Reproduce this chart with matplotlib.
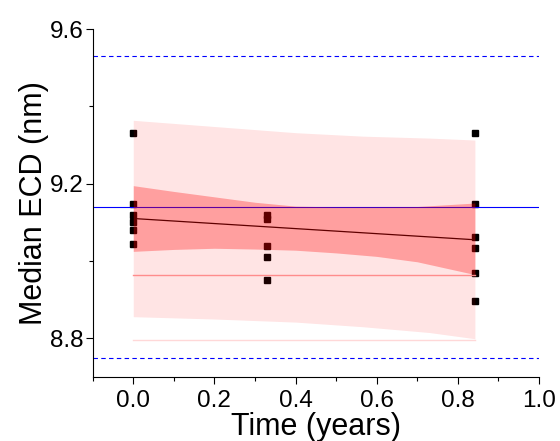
import matplotlib
matplotlib.use("Agg")
import matplotlib.pyplot as plt
from matplotlib.ticker import MultipleLocator

plt.rcParams['font.family'] = ['Liberation Sans', 'DejaVu Sans']

# Data points (time in years, median ECD in nm)
t0 = [0.0, 0.0, 0.0, 0.0, 0.0, 0.0]
v0 = [9.331, 9.148, 9.120, 9.100, 9.081, 9.043]
t1 = [0.329, 0.329, 0.329, 0.329, 0.329]
v1 = [9.120, 9.109, 9.038, 9.011, 8.950]
t2 = [0.842, 0.842, 0.842, 0.842, 0.842, 0.842]
v2 = [9.332, 9.148, 9.061, 9.033, 8.968, 8.896]

# Regression line
fit_x = [0.0, 0.842]
fit_y = [9.110, 9.055]

# Confidence band read at sample times
ci_x = [0.0, 0.1, 0.2, 0.3, 0.4, 0.5, 0.6, 0.7, 0.842]
ci_upper = [9.195, 9.180, 9.166, 9.152, 9.142, 9.140, 9.140, 9.141, 9.150]
ci_lower = [9.025, 9.030, 9.033, 9.031, 9.028, 9.021, 9.012, 8.998, 8.965]

# Prediction band read at sample times
pi_x = [0.0, 0.2, 0.4, 0.566, 0.73, 0.842]
pi_upper = [9.364, 9.348, 9.332, 9.323, 9.318, 9.313]
pi_lower = [8.856, 8.850, 8.842, 8.830, 8.815, 8.799]

# Reference lines
mean_ref = 9.141
upper_ref = 9.530
lower_ref = 8.750
pink_line = 8.963
faint_line = 8.797

fig = plt.figure(figsize=(5.6, 4.41), dpi=100)
ax = fig.add_axes([0.1655, 0.1451, 0.797, 0.789])

tx = t0 + t1 + t2
vy = v0 + v1 + v2
ax.plot(tx, vy, 's', color='black', markersize=5, zorder=1)

ax.axhline(mean_ref, color='#0000ff', lw=0.8, zorder=1)
ax.axhline(upper_ref, color='#0000ff', lw=0.8, ls=(0, (4, 3)), zorder=1)
ax.axhline(lower_ref, color='#0000ff', lw=0.8, ls=(0, (4, 3)), zorder=1)
ax.plot(fit_x, fit_y, color='black', lw=0.9, zorder=1)

ax.fill_between(pi_x, pi_lower, pi_upper, color='red', alpha=0.105, lw=0, zorder=2)
ax.fill_between(ci_x, ci_lower, ci_upper, color='red', alpha=0.30, lw=0, zorder=3)

ax.plot(fit_x, [pink_line, pink_line], color='#ff8c8c', lw=1.0, zorder=4)
ax.plot(fit_x, [faint_line, faint_line], color='#ffd8d8', lw=1.0, zorder=4)

ax.set_xlim(-0.1, 1.0)
ax.set_ylim(8.70, 9.6)
ax.xaxis.set_minor_locator(MultipleLocator(0.1))
ax.yaxis.set_minor_locator(MultipleLocator(0.2))
ax.set_xticks([0.0, 0.2, 0.4, 0.6, 0.8, 1.0])
ax.set_xticklabels(['0.0', '0.2', '0.4', '0.6', '0.8', '1.0'])
ax.set_yticks([8.8, 9.2, 9.6])
ax.set_yticklabels(['8.8', '9.2', '9.6'])

for s in ['top', 'right']:
    ax.spines[s].set_visible(False)
for s in ['left', 'bottom']:
    ax.spines[s].set_linewidth(0.8)

ax.tick_params(which='major', direction='out', length=5, width=0.8, labelsize=17.5, pad=1.5)
ax.tick_params(axis='x', which='major', pad=4)
ax.tick_params(which='minor', direction='out', length=3, width=0.8)

ax.set_xlabel('Time (years)', fontsize=22, labelpad=0)
ax.set_ylabel('Median ECD (nm)', fontsize=22, labelpad=1)

fig.savefig('out.png', dpi=100)
